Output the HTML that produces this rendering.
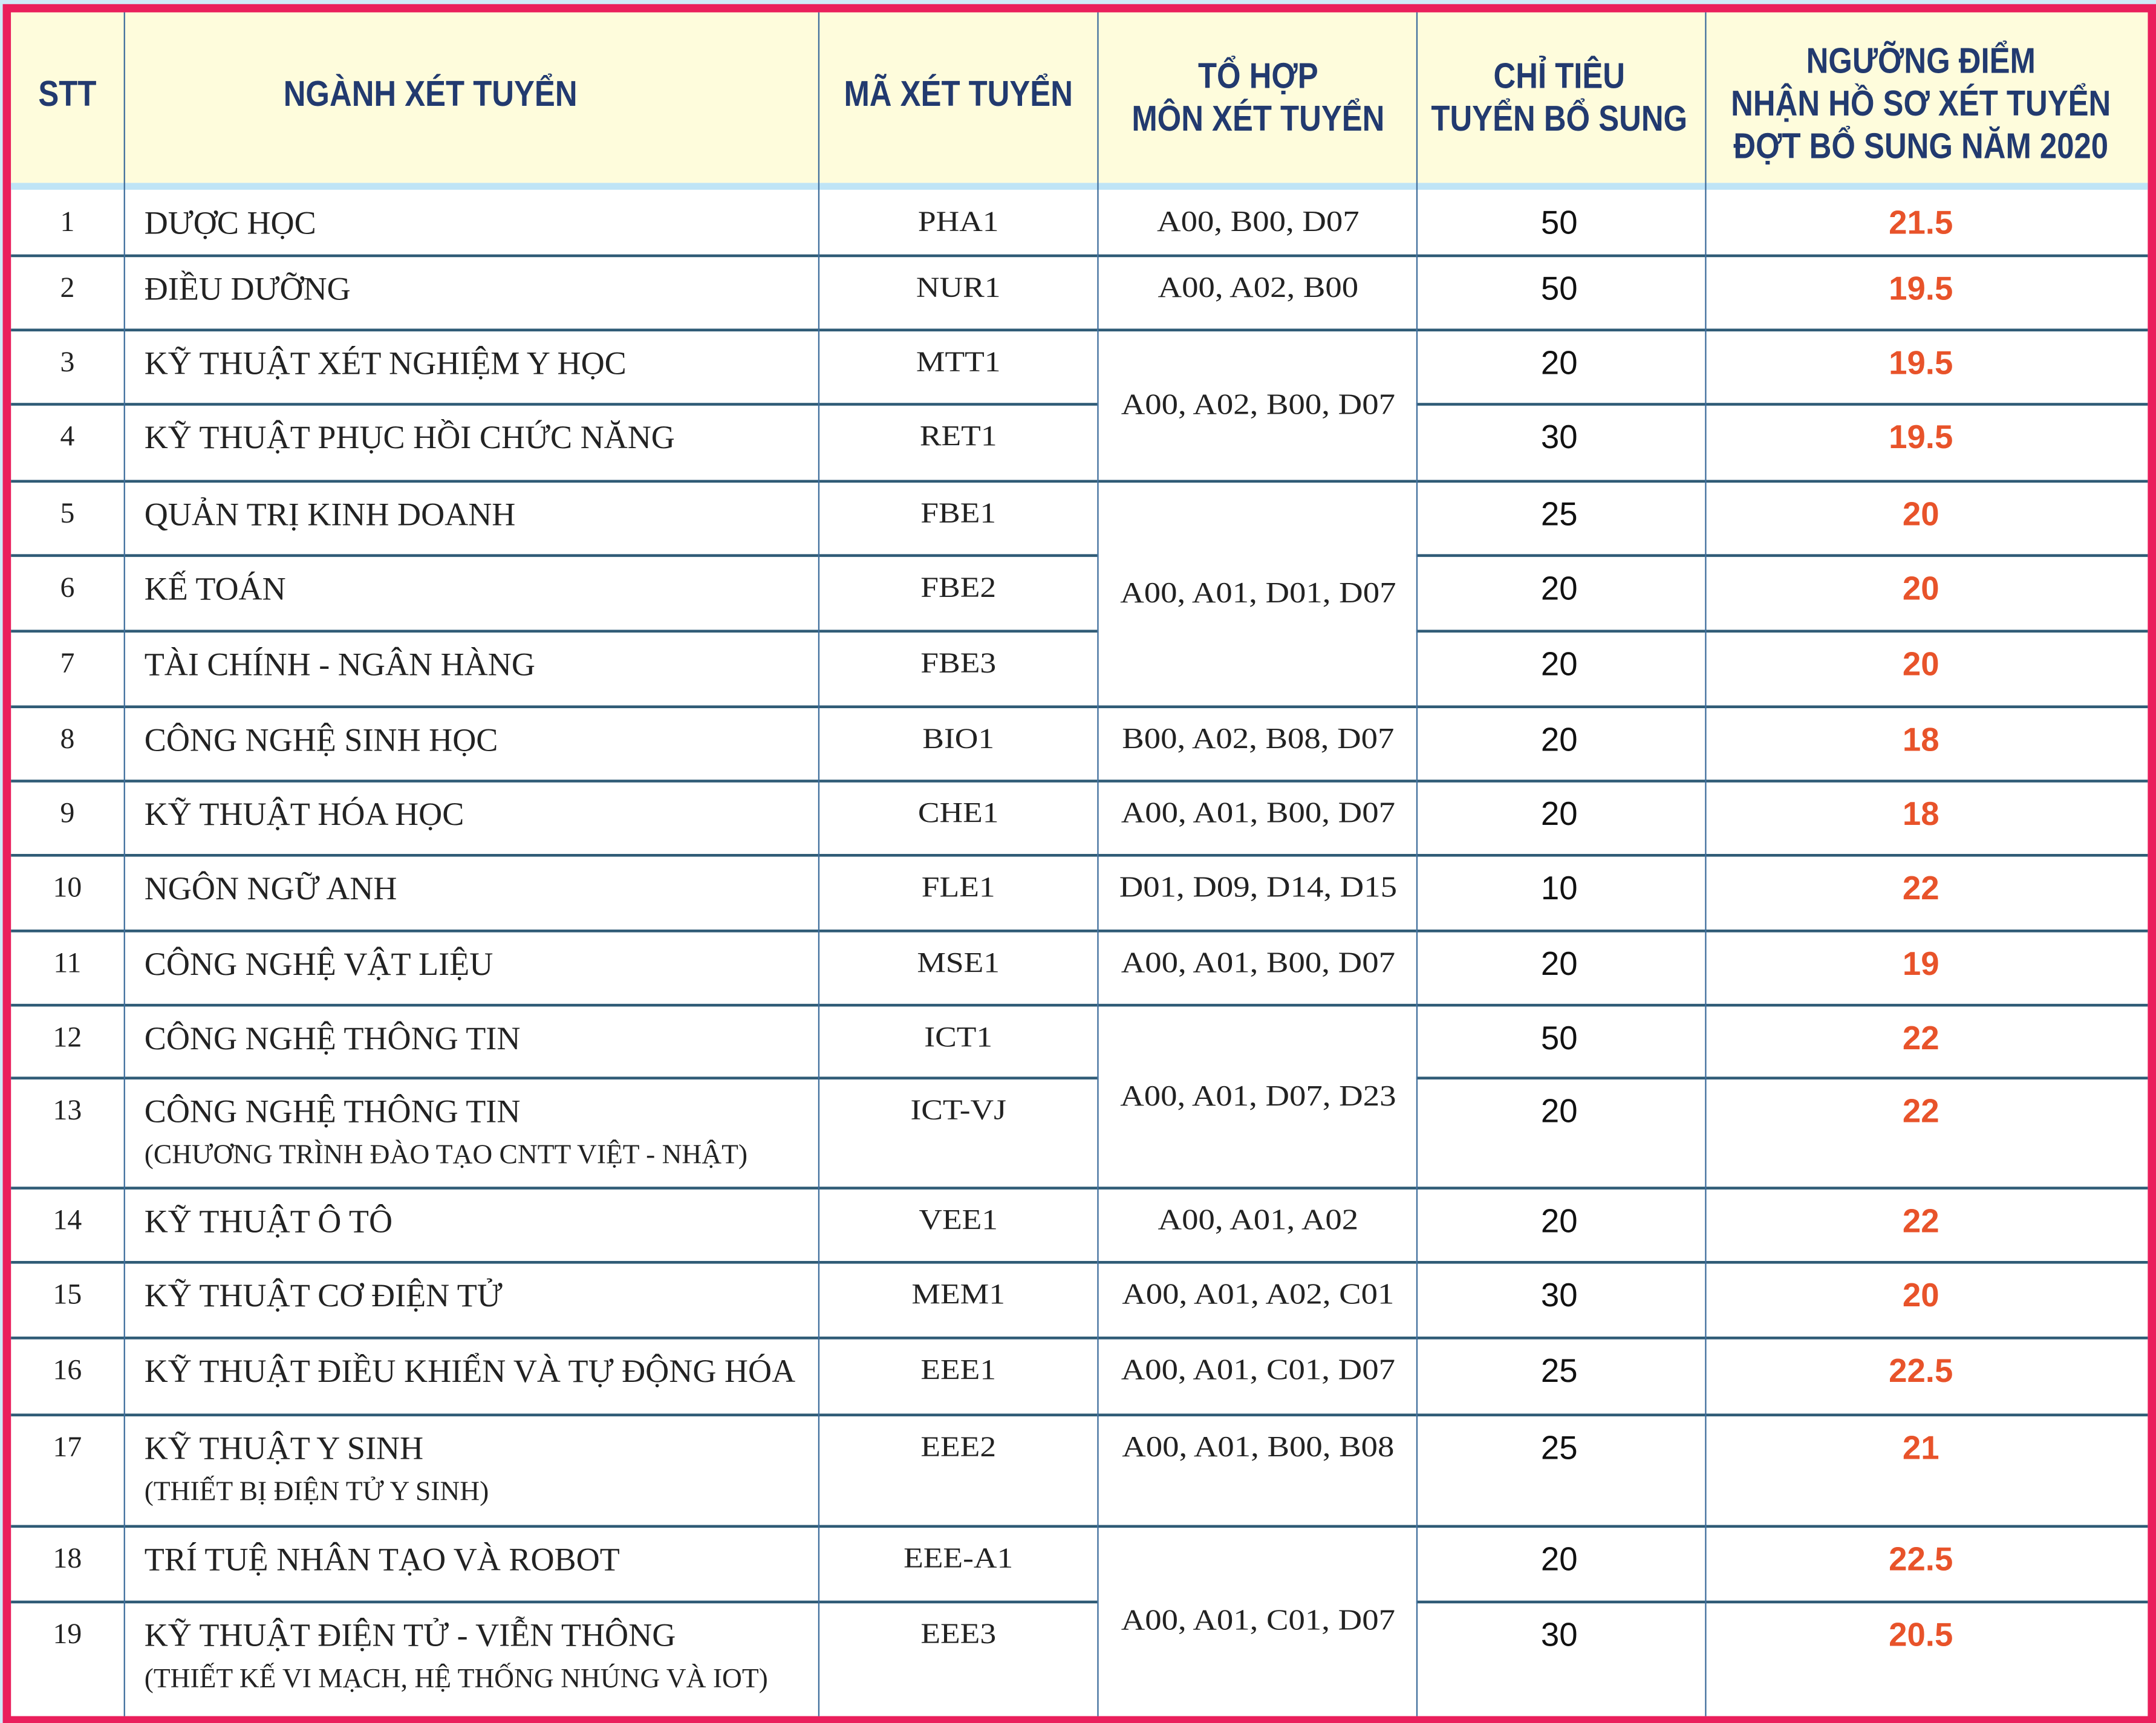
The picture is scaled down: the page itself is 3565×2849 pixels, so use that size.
<!DOCTYPE html>
<html><head><meta charset="utf-8">
<style>
html,body{margin:0;padding:0;background:#fff;}
body{width:3565px;height:2849px;overflow:hidden;position:relative;}
#stage{position:absolute;left:0;top:0;width:1568px;height:1253px;transform-origin:0 0;transform:scale(2.27360,2.27374);background:#cfeaf8;}
.ab{position:absolute;}
.t{position:absolute;height:30px;line-height:30px;white-space:nowrap;}
.hd{font-family:"Liberation Sans Narrow","Liberation Sans",sans-serif;font-weight:bold;color:#223a6f;font-size:26px;text-align:center;transform:translateX(-50%) scaleX(0.86);}
.bd{font-family:"Liberation Serif",serif;color:#222;font-size:23.8px;}
.c{transform:translateX(-50%);text-align:center;}
.cw{transform:translateX(-50%) scaleX(1.12);text-align:center;}
.sc{font-family:"Liberation Sans",sans-serif;font-weight:bold;color:#e8532a;font-size:24px;}
</style></head>
<body>
<div id="stage">
  <div class="ab" style="left:2px;top:3px;width:1566px;height:1250px;background:#ea1f5c;"></div>
  <div class="ab" style="left:8px;top:9px;width:1554px;height:1239px;background:#fff;"></div>
  <div class="ab" style="left:8px;top:9px;width:1554px;height:124px;background:#fefcdc;"></div>
  <div class="ab" style="left:8px;top:133px;width:1554px;height:5px;background:#bfe4f6;"></div>
  <div id="layer"></div>
</div>
<script>
const stt = ["1","2","3","4","5","6","7","8","9","10","11","12","13","14","15","16","17","18","19"];
const names = ["DƯỢC HỌC","ĐIỀU DƯỠNG","KỸ THUẬT XÉT NGHIỆM Y HỌC","KỸ THUẬT PHỤC HỒI CHỨC NĂNG","QUẢN TRỊ KINH DOANH","KẾ TOÁN","TÀI CHÍNH - NGÂN HÀNG","CÔNG NGHỆ SINH HỌC","KỸ THUẬT HÓA HỌC","NGÔN NGỮ ANH","CÔNG NGHỆ VẬT LIỆU","CÔNG NGHỆ THÔNG TIN","CÔNG NGHỆ THÔNG TIN","KỸ THUẬT Ô TÔ","KỸ THUẬT CƠ ĐIỆN TỬ","KỸ THUẬT ĐIỀU KHIỂN VÀ TỰ ĐỘNG HÓA","KỸ THUẬT Y SINH","TRÍ TUỆ NHÂN TẠO VÀ ROBOT","KỸ THUẬT ĐIỆN TỬ - VIỄN THÔNG"];
const subs = ["","","","","","","","","","","","","(CHƯƠNG TRÌNH ĐÀO TẠO CNTT VIỆT - NHẬT)","","","","(THIẾT BỊ ĐIỆN TỬ Y SINH)","","(THIẾT KẾ VI MẠCH, HỆ THỐNG NHÚNG VÀ IOT)"];
const codes = ["PHA1","NUR1","MTT1","RET1","FBE1","FBE2","FBE3","BIO1","CHE1","FLE1","MSE1","ICT1","ICT-VJ","VEE1","MEM1","EEE1","EEE2","EEE-A1","EEE3"];
const quotas = ["50","50","20","30","25","20","20","20","20","10","20","50","20","20","30","25","25","20","30"];
const scores = ["21.5","19.5","19.5","19.5","20","20","20","18","18","22","19","22","22","22","20","22.5","21","22.5","20.5"];
const combos = ["A00, B00, D07","A00, A02, B00","A00, A02, B00, D07","A00, A01, D01, D07","B00, A02, B08, D07","A00, A01, B00, D07","D01, D09, D14, D15","A00, A01, B00, D07","A00, A01, D07, D23","A00, A01, A02","A00, A01, A02, C01","A00, A01, C01, D07","A00, A01, B00, B08","A00, A01, C01, D07"];
const comboSpans = [1,1,2,3,1,1,1,1,2,1,1,1,1,2];
const rowBounds = [138,186,240,294,350,404,459,514,568,622,677,731,784,864,918,973,1029,1110,1165,1248];
const colX = [8,90,595,798,1030,1240,1562];

const layer = document.getElementById('layer');
function mk(cls, text, left, top, extra){
  const d = document.createElement('div');
  d.className = cls;
  d.textContent = text;
  d.style.left = left + 'px';
  d.style.top = top + 'px';
  if (extra) d.style.cssText += extra;
  layer.appendChild(d);
  return d;
}
const heads = [[49,[68],["STT"]],[313,[68],["NGÀNH XÉT TUYỂN"]],[697,[68],["MÃ XÉT TUYỂN"]],[915,[55,86],["TỔ HỢP","MÔN XÉT TUYỂN"]],[1134,[55,86],["CHỈ TIÊU","TUYỂN BỔ SUNG"]],[1397,[44,75,106],["NGƯỠNG ĐIỂM","NHẬN HỒ SƠ XÉT TUYỂN","ĐỢT BỔ SUNG NĂM 2020"]]];
heads.forEach(h => {
  h[2].forEach((txt, i) => {
    const e = mk('t hd', txt, h[0], h[1][i] - 15);
    
    
  });
});
let comboRowStart = [];
let r0 = 0;
comboSpans.forEach(s => { comboRowStart.push(r0); r0 += s; });
const isComboEnd = new Array(19).fill(false);
comboRowStart.forEach((st, i) => { isComboEnd[st + comboSpans[i] - 1] = true; });

for (let i = 0; i < 19; i++) {
  const top = rowBounds[i], bot = rowBounds[i + 1];
  const cy = top + 25;
  let e;
  e = mk('t bd c', stt[i], 49, cy - 17, 'font-size:21px;');
  
  
  e = mk('t bd', names[i], 105, cy - 15);
  
  
  if (subs[i]) {
    e = mk('t bd', subs[i], 105, top + 41, 'font-size:20px;');
    
    
  }
  e = mk('t bd cw', codes[i], 697, cy - 17, 'font-size:21px;');
  
  
  e = mk('t bd c', quotas[i], 1134, cy - 15, 'font-size:24px;color:#111;font-family:\"Liberation Sans\",sans-serif;');
  
  
  e = mk('t sc c', scores[i], 1397, cy - 15);
  
  
  if (i < 18) {
    let ln = mk('ab', '', colX[0], bot - 1, 'width:' + (colX[3] - colX[0]) + 'px;height:2px;background:#2f5b76;');
    
    
    if (isComboEnd[i]) {
      ln = mk('ab', '', colX[3], bot - 1, 'width:' + (colX[4] - colX[3]) + 'px;height:2px;background:#2f5b76;');
      
      
    }
    ln = mk('ab', '', colX[4], bot - 1, 'width:' + (colX[6] - colX[4]) + 'px;height:2px;background:#2f5b76;');
    
    
  }
}
comboRowStart.forEach((st, i) => {
  const top = rowBounds[st], bot = rowBounds[st + comboSpans[i]];
  const cy = comboSpans[i] === 1 ? top + 24 : (top + bot) / 2;
  const e = mk('t bd cw', combos[i], 915, cy - 16, 'font-size:21.5px;');
  
  
});
for (let k = 1; k < 6; k++) {
  const ln = mk('ab', '', colX[k], 9, 'width:1px;height:1239px;background:#3f6e9c;');
  
  
}
</script>
</body></html>
